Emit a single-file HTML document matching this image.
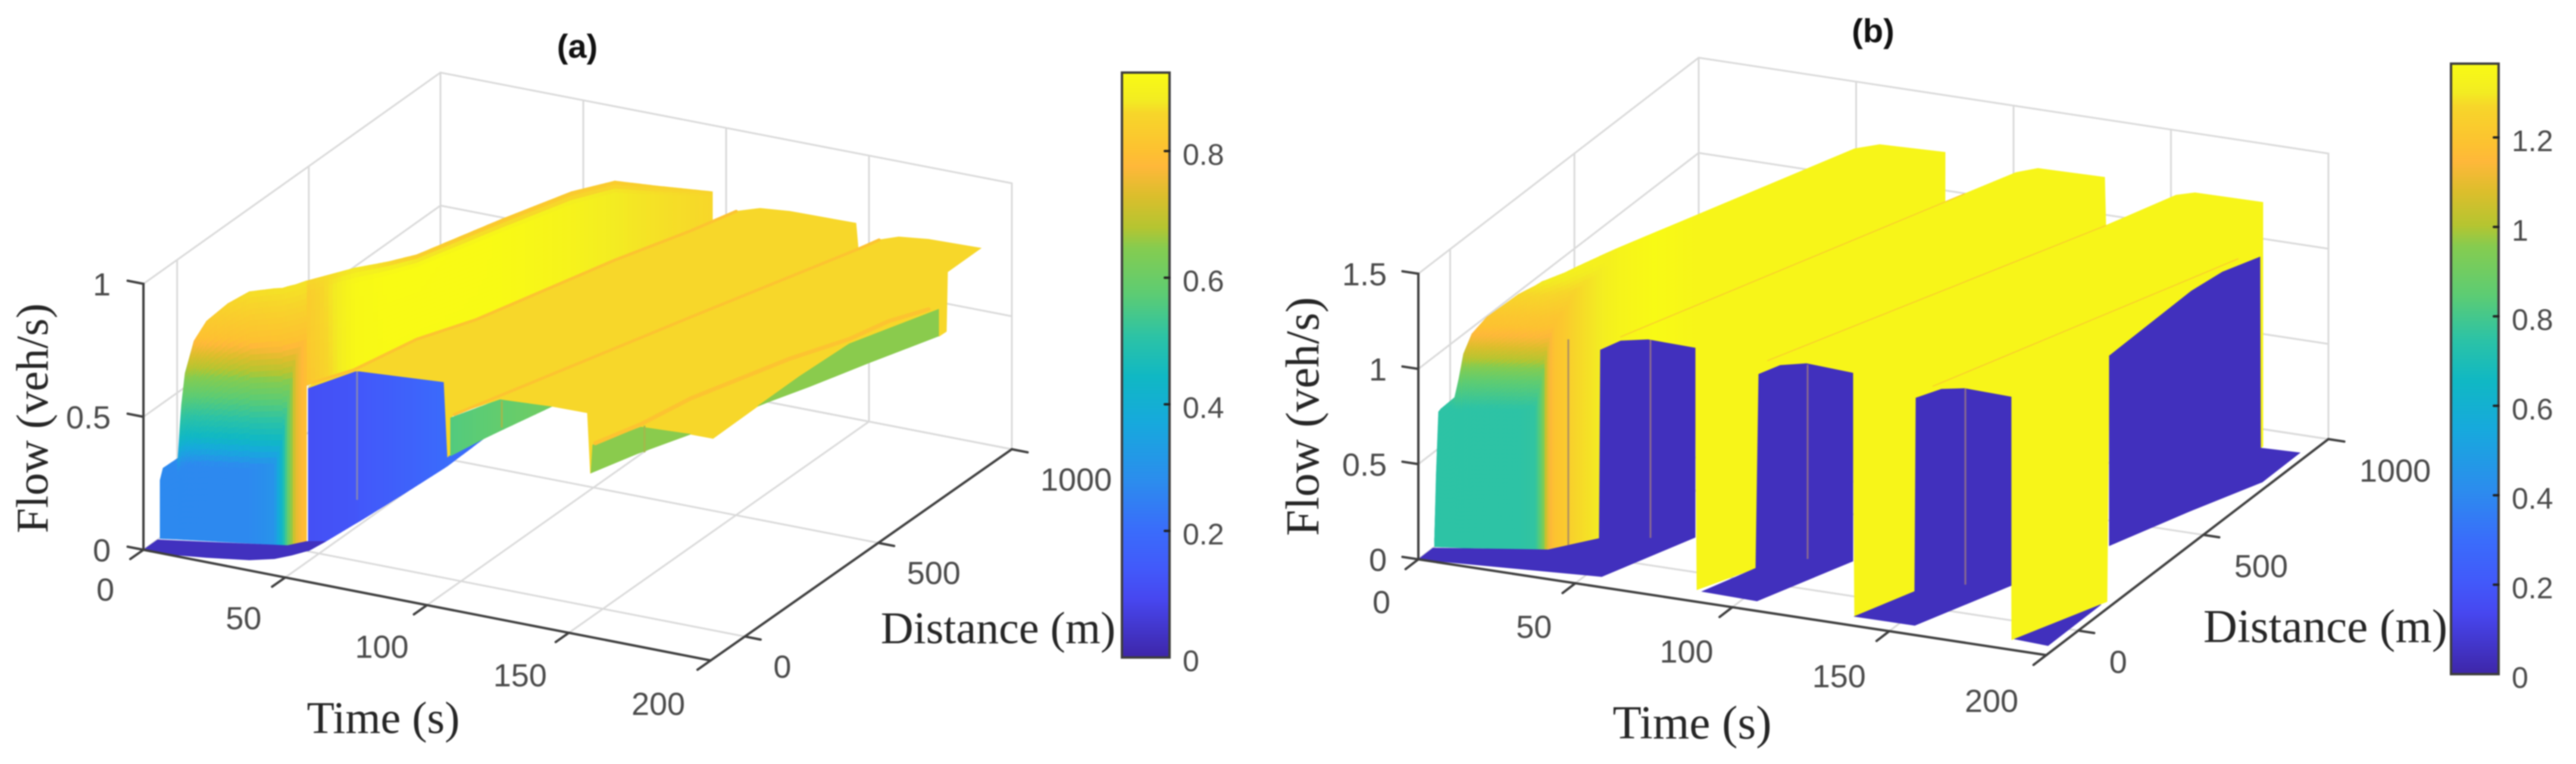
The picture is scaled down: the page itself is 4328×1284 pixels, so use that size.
<!DOCTYPE html>
<html lang="en">
<head>
<meta charset="utf-8">
<title>Flow surfaces (a) and (b)</title>
<style>
html,body{margin:0;padding:0;background:#fff;width:4328px;height:1284px;overflow:hidden}
svg{display:block;filter:blur(1.1px)}
.serif{font-family:"Liberation Serif",serif;fill:#262626}
.sans{font-family:"Liberation Sans",sans-serif}
</style>
</head>
<body>
<svg id="figure" xmlns="http://www.w3.org/2000/svg" width="4328" height="1284" viewBox="0 0 4328 1284">
  <defs id="defs"></defs>
  <rect x="0" y="0" width="4328" height="1284" fill="#fff"/>
  <g id="panel-a"></g>
  <g id="panel-b"></g>
  <text class="sans" x="970" y="97" font-size="56" font-weight="700" text-anchor="middle" fill="#111">(a)</text>
  <text class="sans" x="3147" y="71" font-size="56" font-weight="700" text-anchor="middle" fill="#111">(b)</text>
  <text class="serif" x="644" y="1232" font-size="76" text-anchor="middle">Time (s)</text>
  <text class="serif" x="1677" y="1081" font-size="76" text-anchor="middle">Distance (m)</text>
  <text class="serif" transform="translate(80,703) rotate(-90)" font-size="76" text-anchor="middle">Flow (veh/s)</text>
  <text class="serif" x="2843" y="1241" font-size="79" text-anchor="middle">Time (s)</text>
  <text class="serif" x="3907" y="1079" font-size="79" text-anchor="middle">Distance (m)</text>
  <text class="serif" transform="translate(2215,700) rotate(-90)" font-size="79" text-anchor="middle">Flow (veh/s)</text>
</svg>
<script>
/* ---------- shared axis data ---------- */
const timeTicks = [0, 50, 100, 150, 200];
const distanceTicks = [0, 500, 1000];
const distanceAxisLow = -128;
const aFlowTicks = [0, 0.5, 1];
const bFlowTicks = [0, 0.5, 1, 1.5];
const aColorbarTicks = [0, 0.2, 0.4, 0.6, 0.8];
const bColorbarTicks = [0, 0.2, 0.4, 0.6, 0.8, 1, 1.2];
const aFlowMax = 0.924;
const bFlowMax = 1.365;

/* ---------- colormap ---------- */
const parulaPositions = [0, 0.1, 0.15, 0.217, 0.3, 0.4, 0.48, 0.55, 0.62, 0.7, 0.735, 0.79, 0.84, 0.866, 0.93, 0.953, 1];
const parulaColours = ['3e26a8','4747f0','4259fa','3a6cfb','2c8cee','17a9dd','10b8c4','2dc3a5','5ccc74','85cc50','b5c531','dcbe2c','ffb83a','fdc131','f7d62a','f3ec22','f9fb14'];

/* ---------- panel (a) surface data: time (s), distance along the axis from its corner, flow (veh/s) ---------- */
const aRiseTime = [0.15,1.04,5.38,5.92,6.46,7.51,10.17,13.89,20.28,26.66,34.11,36.55,37.97,39.69,41.71];
const aRiseDist = [53.9,55.4,63.9,64.8,65.6,67.6,72.3,78.7,89.7,100.8,113.6,118.3,120.6,132.1,148.8];
const aRisePeak = [0.219,0.265,0.305,0.411,0.507,0.626,0.749,0.826,0.897,0.946,0.963,0.966,0.973,0.975,0.98];
const aRiseBase = [0.27,0.27,0.27,0.27,0.27,0.27,0.27,0.27,0.27,0.27,0.30,0.45,0.57,0.74,0.80];
const aRiseHeights = [0.286,0.39,0.54,0.615,0.69,0.765,0.84,0.91,0.96];
const aRiseValues = [0.27,0.44,0.57,0.645,0.72,0.80,0.83,0.86,0.87];

const aCrestUpperTime = [30.25,38.56,45.09,50.32,59.76,68.2,75.98,88.85,107.12];
const aCrestUpperDist = [256.7,340.4,385.8,433.2,626.9,778.7,849.8,861,880.6];
const aCrestUpperFlow = [0.87,0.87,0.87,0.87,0.87,0.87,0.87,0.87,0.87];
const aCrestLowerTime = [45.2,50.49,67.8,83.55,94.98,102.37,107.1,112.02,119.29];
const aCrestLowerDist = [115.7,228,171.6,120.3,295.3,457,556.7,642.8,766];
const aCrestLowerFlow = [0.62,0.6,0.741,0.87,0.87,0.87,0.87,0.87,0.87];
const aCrestRowEdge = [0.86,0.87,0.85,0.82,0.80,0.81,0.82,0.84,0.85];
const aCrestRowMiddle = [0.83,0.915,0.924,0.924,0.92,0.90,0.88,0.87,0.86];
const aCrestRowInner = [0.81,0.915,0.92,0.92,0.92,0.90,0.88,0.87,0.86];

const aLowWallTime = [45.95,46.96,48.15,48.37,49.85,50.86,50.9,50.16];
const aLowWallDist = [114.7,162.5,250.1,261.9,398.2,519.1,530.5,658.1];
const aLowWallPeak = [0.611,0.60,0.573,0.564,0.436,0.324,0.034,0];
const aLowWallValue = [0.115,0.12,0.13,0.135,0.165,0.195,0.2,0.2];

const aFloorTime = [0,0,38.1,41.7,46.9,45.9,43,39.6,33.2,20.4,7.6];
const aFloorDist = [0,47,119.5,148.7,162.5,117.4,87.3,61.6,39.1,17,0];
const aFloorFlow = [0,0,0,0,0,0,0,0,0,0,0];
const aFloorValue = 0.03;

const aSheetTwoTime = [44.54,43.75,50,83.55,92.25,107.1,116.49,121.4,126.8,136.18,159.1,160.1,169.98,150.42,95.31,95.66,94.25,94.43,79.64,52.11,50.96];
const aSheetTwoDist = [127.9,151.2,226.7,120.3,236,556.7,719.3,825.1,853.3,863.8,867.5,865.5,774.8,399.7,134.1,121,134.2,120.6,248.1,226.6,223.6];
const aSheetTwoFlow = [0.6,0.6,0.6,0.87,0.87,0.87,0.87,0.87,0.87,0.87,0.87,0.78,0.87,0.87,0.6,0.6,0.45,0.45,0.6,0.6,0.6];

const aStepOneTime = [107.42,109.83,111.22,115.91];
const aStepOneDist = [8.1,96.1,136.4,264.1];
const aStepOneLow = [0.57,0.57,0.57,0.57];
const aStepOnePeak = [0.713,0.695,0.689,0.57];
const aStepOneValue = [0.56,0.575,0.585,0.61];

const aSheetThreeTime = [95.31,101.86,118.95,131.38,131.83,132.36,131.92,151.77,168.21,176.09,175.76,175.56,176.48,187.53,189.89,189.99,190.99,201.3,185.44,176.3,172.05,169.98,150.42];
const aSheetThreeDist = [134.1,224.5,235.5,237.2,242.8,245.6,249.8,223,232.2,233.1,384.4,524.7,682,874.3,854.1,876.8,871.5,885.1,860.4,847.7,822.5,774.8,399.7];
const aSheetThreeFlow = [0.6,0.6,0.6,0.6,0.37,0.38,0.47,0.6,0.6,0.6,0.6,0.6,0.6,0.6,0.52,0.52,0.75,0.85,0.87,0.87,0.87,0.87,0.87];

const aStepTwoTime = [145.49,151.77,168.21,161.15,156];
const aStepTwoDist = [121.9,223,232.2,120.8,17.2];
const aStepTwoFlow = [0.6,0.6,0.6,0.6,0.6];
const aStepThreeTime = [175.76,175.56,176.48,187.53,198.06,189.38,182.33,177.18];
const aStepThreeDist = [384.4,524.7,682,874.3,775.1,625.7,494.5,410.6];
const aStepThreeFlow = [0.6,0.6,0.6,0.6,0.6,0.6,0.6,0.6];
const aSheetValue = 0.86;
const aStepTwoValue = 0.65;

const aCrestOneTime = [43.75,50,83.55,92.25,107.1,116.49,121.4];
const aCrestOneDist = [151.2,226.7,120.3,236,556.7,719.3,825.1];
const aCrestOneFlow = [0.6,0.6,0.87,0.87,0.87,0.87,0.87];
const aCrestTwoTime = [95.31,150.42,169.98,172.05];
const aCrestTwoDist = [134.1,399.7,774.8,822.5];
const aCrestTwoFlow = [0.6,0.87,0.87,0.87];
const aCrestThreeTime = [145.45,150.6,154.17,165.91,174.6,178.42,184.74];
const aCrestThreeDist = [130.4,234,364.4,583.9,699.6,794.1,867];
const aCrestThreeFlow = [0.6,0.6,0.6,0.6,0.6,0.6,0.6];
const aCrestValue = 0.81;

/* ---------- panel (b) surface data ---------- */
const bRiseTime = [0,0.41,1.08,1.76,5.55,6.05,6.73,8.09,10.31,14.36,23.05,27.78,29.58,30.79,32.28,34.71,36.83,40.83,45.42,55.32,65.86];
const bRiseDist = [57.7,58.7,59.7,60.6,66.9,67.7,68.6,70.2,75.1,82.8,98,106.5,109.7,115.2,123.9,134.8,153.3,187,197.1,221.9,248];
const bRisePeak = [0.04,0.372,0.71,0.726,0.788,0.829,0.886,1.019,1.125,1.214,1.338,1.387,1.409,1.416,1.425,1.441,1.456,1.481,1.522,1.603,1.6875];
const bRiseBase = [0.4,0.5,0.75,0.75,0.75,0.75,0.75,0.75,0.75,0.75,0.75,0.76,0.88,1.09,1.19,1.22,1.27,1.30,1.33,1.36,1.34];
const bRiseHeights = [0.7375,0.878,1.0,1.097,1.175,1.214,1.34,1.45];
const bRiseValues = [0.75,0.85,1.01,1.12,1.19,1.2,1.27,1.32];

const bSheetTime = [30.84,32.74,61.3,66.48,86.55,86.72,106.06,112.38,116.79,137.58,138.11,162.75,166.98,188.3,188.4,187.71,187.35,192.5,188.4,178.77,197.55,185.47,166.52,155.22,149.47,143.3,142.98,135.68,116.01,104.92,98.59,93.52,92.73,84.51,65.86,53.58,46.52,41.15];
const bSheetDist = [298.2,338.1,864.3,895.1,903.8,901.9,754.3,867.5,896.4,901.3,899.7,874.5,894.9,898,897,896.2,898.1,707.9,643.8,459.8,242.5,39.4,248,209.2,190.9,169.1,168.4,36.5,249,207.9,185.5,166,164.3,47,248,218,199.6,187.7];
const bSheetFlow = [1.33,1.33,1.33,1.33,1.33,1.07,1.33,1.33,1.33,1.33,1.08,1.33,1.33,1.33,0.05,0.04,1.04,1.19,1.153,0.997,0,0,0.99,1.05,1.053,1.016,0,0,0.9875,1.056,1.056,1.019,0,0,0.994,1.041,1.0375,0.99];
const bSheetValue = 1.34;

const bBlockOneTime = [0,0,31.16,40.83,41.15,46.52,53.58,65.86,65.86,54.68];
const bBlockOneDist = [0,52,113.2,187,187.7,199.6,218,248,248,41.4];
const bBlockOneFlow = [0,0,0,0,0.99,1.0375,1.041,0.994,0,0];
const bBlockTwoTime = [86.55,92.73,93.52,98.59,104.92,116.01,116.01,104.39];
const bBlockTwoDist = [43.2,164.3,166,185.5,207.9,249,249,38.7];
const bBlockTwoFlow = [0,0,1.019,1.056,1.056,0.9875,0,0];
const bBlockThreeTime = [135.68,142.98,143.3,149.47,155.22,166.52,166.52,154.74];
const bBlockThreeDist = [36.5,168.4,169.1,190.9,209.2,248,248,37.4];
const bBlockThreeFlow = [0,0,1.016,1.053,1.05,0.99,0,0];
const bBlockFourTime = [178.77,188.4,192.5,187.35,187.71,197.15,197.31,188.03,178.77];
const bBlockFourDist = [459.8,643.8,707.9,898.1,896.2,930.4,795.7,637.4,459.8];
const bBlockFourFlow = [0.997,1.153,1.19,1.04,0.04,0,0,0,0];
const bBlockFiveTime = [186.05,197,197.17];
const bBlockFiveDist = [43.5,227.5,37.8];
const bBlockFiveFlow = [0,0,0];
const bBlockValue = 0.04;

const bCrestOneTime = [64.39,106.06];
const bCrestOneDist = [0.7,754.3];
const bCrestTwoTime = [111.7,154.62];
const bCrestTwoDist = [-4.6,715.9];
const bCrestThreeTime = [164.51,201.3];
const bCrestThreeDist = [-6,665];
const bCrestFlow = [1.33,1.33];
const bCrestValue = 1.24;

/* ---------- drawing helpers ---------- */
const NS = 'http://www.w3.org/2000/svg';
function svgEl(tag, attrs) {
  const el = document.createElementNS(NS, tag);
  for (const k in attrs) el.setAttribute(k, attrs[k]);
  return el;
}
function lerp(a, b, s) { return a + (b - a) * s; }
function parula(u) {
  u = Math.max(0, Math.min(1, u));
  let i = 0;
  while (i < parulaPositions.length - 2 && u > parulaPositions[i + 1]) i++;
  const s = (u - parulaPositions[i]) / (parulaPositions[i + 1] - parulaPositions[i]);
  const c0 = parulaColours[i], c1 = parulaColours[i + 1];
  const ch = [0, 2, 4].map(function (p) {
    return Math.round(lerp(parseInt(c0.substr(p, 2), 16), parseInt(c1.substr(p, 2), 16), s));
  });
  return 'rgb(' + ch.join(',') + ')';
}
function makePanel(id, origin, timeVec, distVec, flowPx, flowMax, gridSkew) {
  const p = { g: document.getElementById(id), origin, timeVec, distVec, flowPx, flowMax, id };
  p.x = function (t, d) { return origin[0] + t / 200 * timeVec[0] + d / 1000 * distVec[0]; };
  p.y = function (t, d, f) { return origin[1] + t / 200 * timeVec[1] + d / 1000 * distVec[1] - f * flowPx; };
  p.gridX = function (t, d) { return p.x(t, d) - gridSkew * (1 - t / 200) * (d / 1000); };
  p.fill = function (v) { return parula(v / flowMax); };
  return p;
}
/* distance tick value -> position along the axis, measured from the axis corner */
function distanceScale(d) { return (d - distanceAxisLow) / (1000 - distanceAxisLow) * 1000; }
function quad(p, pts, value, layer) {
  const col = p.fill(value);
  const el = svgEl('polygon', {
    points: pts.map(function (q) { return p.x(q[0], q[1]).toFixed(1) + ',' + p.y(q[0], q[1], q[2]).toFixed(1); }).join(' '),
    fill: col, stroke: col, 'stroke-width': 0.9
  });
  
  
  layer.appendChild(el);
}
function layerOf(p, name) {
  const g = svgEl('g', {});
  
  
  p.g.appendChild(g);
  return g;
}
function face(p, name, times, dists, flows, value) {
  const el = svgEl('polygon', {
    points: times.map(function (t, i) { return p.x(t, dists[i]).toFixed(1) + ',' + p.y(t, dists[i], flows[i]).toFixed(1); }).join(' '),
    fill: p.fill(value), stroke: p.fill(value), 'stroke-width': 1
  });
  
  
  p.g.appendChild(el);
}
function knotValue(h, hs, vs) {
  if (h <= hs[0]) return vs[0];
  for (let i = 0; i < hs.length - 1; i++) {
    if (h <= hs[i + 1]) return lerp(vs[i], vs[i + 1], (h - hs[i]) / (hs[i + 1] - hs[i]));
  }
  return vs[vs.length - 1];
}
/* vertical columns standing on (time, dist); optionally shaded by height */
function columns(p, name, times, dists, lows, peaks, values, heights, heightValues) {
  const layer = layerOf(p, name);
  const stepX = heights ? 5 : 7;
  for (let j = 0; j < times.length - 1; j++) {
    const dx = Math.abs(p.x(times[j + 1], dists[j + 1]) - p.x(times[j], dists[j]));
    const n = Math.max(1, Math.ceil(dx / stepX));
    for (let k = 0; k < n; k++) {
      const s0 = k / n, s1 = (k + 1) / n, sm = (s0 + s1) / 2;
      const t0 = lerp(times[j], times[j + 1], s0), t1 = lerp(times[j], times[j + 1], s1);
      const d0 = lerp(dists[j], dists[j + 1], s0), d1 = lerp(dists[j], dists[j + 1], s1);
      const l0 = lows ? lerp(lows[j], lows[j + 1], s0) : 0, l1 = lows ? lerp(lows[j], lows[j + 1], s1) : 0;
      const h0 = lerp(peaks[j], peaks[j + 1], s0), h1 = lerp(peaks[j], peaks[j + 1], s1);
      const base = lerp(values[j], values[j + 1], sm);
      if (!heights) {
        quad(p, [[t0, d0, l0], [t1, d1, l1], [t1, d1, h1], [t0, d0, h0]], base, layer);
        continue;
      }
      const rows = Math.max(1, Math.ceil(Math.max(h0, h1) / 0.022));
      for (let r = 0; r < rows; r++) {
        const a = r / rows, b = (r + 1) / rows;
        const mid = (h0 + h1) / 2 * (a + b) / 2;
        const v = Math.max(base, knotValue(mid, heights, heightValues));
        quad(p, [[t0, d0, h0 * a], [t1, d1, h1 * a], [t1, d1, h1 * b], [t0, d0, h0 * b]], v, layer);
      }
    }
  }
}
/* sheet between an upper and a lower curve, shaded across three rows */
function crestSheet(p, name, upT, upD, upF, loT, loD, loF, rowA, rowB, rowC) {
  const layer = layerOf(p, name);
  const split = 0.14;
  function shade(j, s, r) {
    const a = lerp(rowA[j], rowA[j + 1], s), b = lerp(rowB[j], rowB[j + 1], s), c = lerp(rowC[j], rowC[j + 1], s);
    return r < split ? lerp(a, b, r / split) : lerp(b, c, (r - split) / (1 - split));
  }
  for (let j = 0; j < upT.length - 1; j++) {
    const dx = p.x(upT[j + 1], upD[j + 1]) - p.x(upT[j], upD[j]);
    const n = Math.max(1, Math.ceil(dx / 8));
    for (let k = 0; k < n; k++) {
      const s0 = k / n, s1 = (k + 1) / n;
      const rows = 20;
      for (let r = 0; r < rows; r++) {
        const r0 = r / rows, r1 = (r + 1) / rows;
        const pt = function (s, rr) {
          return [
            lerp(lerp(upT[j], upT[j + 1], s), lerp(loT[j], loT[j + 1], s), rr),
            lerp(lerp(upD[j], upD[j + 1], s), lerp(loD[j], loD[j + 1], s), rr),
            lerp(lerp(upF[j], upF[j + 1], s), lerp(loF[j], loF[j + 1], s), rr)
          ];
        };
        quad(p, [pt(s0, r0), pt(s1, r0), pt(s1, r1), pt(s0, r1)], shade(j, (s0 + s1) / 2, (r0 + r1) / 2), layer);
      }
    }
  }
}
function polyline(p, name, times, dists, flows, value, width) {
  const el = svgEl('polyline', {
    points: times.map(function (t, i) { return p.x(t, dists[i]).toFixed(1) + ',' + p.y(t, dists[i], flows[i]).toFixed(1); }).join(' '),
    fill: 'none', stroke: p.fill(value), 'stroke-width': width, 'stroke-linecap': 'round', 'stroke-linejoin': 'round'
  });
  
  
  p.g.appendChild(el);
}
function seam(p, name, t, d, f0, f1, colour) {
  const el = svgEl('line', { x1: p.x(t, d), y1: p.y(t, d, f0), x2: p.x(t, d), y2: p.y(t, d, f1), stroke: colour, 'stroke-width': 3 });
  
  
  p.g.appendChild(el);
}
function segment(g, name, x1, y1, x2, y2, colour, width) {
  const el = svgEl('line', { x1, y1, x2, y2, stroke: colour, 'stroke-width': width, 'stroke-linecap': 'round' });
  
  
  g.appendChild(el);
}
function label(g, name, x, yc, str, size, anchor) {
  const el = svgEl('text', { x, y: yc + size * 0.358, 'font-size': size, 'text-anchor': anchor, fill: '#4a4a4a', class: 'sans' });
  
  
  el.textContent = str;
  g.appendChild(el);
}
function drawGrid(p, flowTicks) {
  const g = layerOf(p, 'grid');
  const top = flowTicks[flowTicks.length - 1];
  const col = '#dadada';
  timeTicks.forEach(function (t) {
    segment(g, 'floor-grid-time-' + t, p.gridX(t, 0), p.y(t, 0, 0), p.gridX(t, 1000), p.y(t, 1000, 0), col, 3);
    segment(g, 'wall-grid-time-' + t, p.gridX(t, 1000), p.y(t, 1000, 0), p.gridX(t, 1000), p.y(t, 1000, top), col, 3);
  });
  distanceTicks.forEach(function (d) {
    const pos = distanceScale(d);
    segment(g, 'floor-grid-distance-' + d, p.gridX(0, pos), p.y(0, pos, 0), p.gridX(200, pos), p.y(200, pos, 0), col, 3);
    segment(g, 'wall-grid-distance-' + d, p.gridX(0, pos), p.y(0, pos, 0), p.gridX(0, pos), p.y(0, pos, top), col, 3);
  });
  flowTicks.forEach(function (f) {
    segment(g, 'wall-grid-flow-left-' + f, p.gridX(0, 0), p.y(0, 0, f), p.gridX(0, 1000), p.y(0, 1000, f), col, 3);
    segment(g, 'wall-grid-flow-back-' + f, p.gridX(0, 1000), p.y(0, 1000, f), p.gridX(200, 1000), p.y(200, 1000, f), col, 3);
  });
}
function drawAxes(p, flowTicks, off) {
  const g = layerOf(p, 'axes');
  const dark = '#3f3f3f';
  const top = flowTicks[flowTicks.length - 1];
  segment(g, 'flow-axis', p.x(0, 0), p.y(0, 0, 0), p.x(0, 0), p.y(0, 0, top), dark, 4);
  segment(g, 'time-axis', p.x(0, 0), p.y(0, 0, 0), p.x(200, 0), p.y(200, 0, 0), dark, 4);
  segment(g, 'distance-axis', p.x(200, 0), p.y(200, 0, 0), p.x(200, 1000), p.y(200, 1000, 0), dark, 4);
  const tLen = Math.hypot(p.timeVec[0], p.timeVec[1]), dLen = Math.hypot(p.distVec[0], p.distVec[1]);
  const tx = p.timeVec[0] / tLen * 27, ty = p.timeVec[1] / tLen * 27;
  const dx = p.distVec[0] / dLen * 27, dy = p.distVec[1] / dLen * 27;
  timeTicks.forEach(function (t) {
    const x = p.x(t, 0), y = p.y(t, 0, 0);
    segment(g, 'time-tick-' + t, x, y, x - dx, y - dy, dark, 4);
    label(g, 'time-tick-label-' + t, x + off.tx0 + off.tx1 * t, y + off.ty0 + off.ty1 * t, String(t), 54, 'middle');
  });
  distanceTicks.forEach(function (d) {
    const pos = distanceScale(d);
    const x = p.x(200, pos), y = p.y(200, pos, 0);
    segment(g, 'distance-tick-' + d, x, y, x + tx, y + ty, dark, 4);
    label(g, 'distance-tick-label-' + d, x + off.dGap, y + off.dDrop, String(d), 54, 'start');
  });
  flowTicks.forEach(function (f) {
    const x = p.x(0, 0), y = p.y(0, 0, f);
    segment(g, 'flow-tick-' + f, x, y, x - tx, y - ty, dark, 4);
    label(g, 'flow-tick-label-' + f, x - off.flowGap, y, String(f), 54, 'end');
  });
}
function drawColorbar(p, x, yTop, yBottom, width, ticks, flowMax) {
  const gid = p.id + '-gradient';
  const grad = svgEl('linearGradient', { id: gid, x1: 0, y1: 1, x2: 0, y2: 0 });
  parulaPositions.forEach(function (u, i) {
    grad.appendChild(svgEl('stop', { offset: u, 'stop-color': '#' + parulaColours[i] }));
  });
  document.getElementById('defs').appendChild(grad);
  const g = layerOf(p, 'colorbar');
  const r = svgEl('rect', { x, y: yTop, width, height: yBottom - yTop, fill: 'url(#' + gid + ')', stroke: '#3d3d3d', 'stroke-width': 4 });
  
  
  g.appendChild(r);
  ticks.forEach(function (v) {
    const y = yBottom - (yBottom - yTop) * v / flowMax;
    if (v > 0) segment(g, 'colorbar-tick-' + v, x + width - 8, y, x + width, y, '#222', 4);
    label(g, 'colorbar-label-' + v, x + width + 22, y + 5, String(v), 50, 'start');
  });
}

/* ---------- panel (a) ---------- */
const pa = makePanel('panel-a', [241, 924], [953, 186], [506, -355], 447, aFlowMax, 7);
drawGrid(pa, aFlowTicks);
crestSheet(pa, 'ridge-one-sheet', aCrestUpperTime, aCrestUpperDist, aCrestUpperFlow, aCrestLowerTime, aCrestLowerDist, aCrestLowerFlow, aCrestRowEdge, aCrestRowMiddle, aCrestRowInner);
columns(pa, 'rising-flow-wall', aRiseTime, aRiseDist, null, aRisePeak, aRiseBase, aRiseHeights, aRiseValues);
columns(pa, 'low-flow-wall', aLowWallTime, aLowWallDist, null, aLowWallPeak, aLowWallValue);
face(pa, 'near-floor', aFloorTime, aFloorDist, aFloorFlow, aFloorValue);
face(pa, 'ridge-two-sheet', aSheetTwoTime, aSheetTwoDist, aSheetTwoFlow, aSheetValue);
columns(pa, 'step-one-wall', aStepOneTime, aStepOneDist, aStepOneLow, aStepOnePeak, aStepOneValue);
face(pa, 'ridge-three-sheet', aSheetThreeTime, aSheetThreeDist, aSheetThreeFlow, aSheetValue);
face(pa, 'step-two-wall', aStepTwoTime, aStepTwoDist, aStepTwoFlow, aStepTwoValue);
face(pa, 'step-three-wall', aStepThreeTime, aStepThreeDist, aStepThreeFlow, aStepTwoValue);
polyline(pa, 'crest-line-one', aCrestOneTime, aCrestOneDist, aCrestOneFlow, aCrestValue, 5);
polyline(pa, 'crest-line-two', aCrestTwoTime, aCrestTwoDist, aCrestTwoFlow, aCrestValue, 5);
polyline(pa, 'crest-line-three', aCrestThreeTime, aCrestThreeDist, aCrestThreeFlow, aCrestValue, 7);
seam(pa, 'surface-seam-blue', 48.17, 255.8, 0.085, 0.568, '#8585b5');
seam(pa, 'surface-seam-green-one', 111.5, 140, 0.58, 0.68, '#a5b84a');
seam(pa, 'surface-seam-green-two', 159.5, 161.7, 0.57, 0.67, '#a5b84a');
drawAxes(pa, aFlowTicks, { tx0: -64, tx1: -0.12, ty0: 66, ty1: 0.03, dGap: 48, dDrop: 50, flowGap: 55 });
drawColorbar(pa, 1885, 122, 1105, 80, aColorbarTicks, aFlowMax);

/* ---------- panel (b) ---------- */
const pb = makePanel('panel-b', [2383, 940], [1055, 161], [474, -363], 320, bFlowMax, 3);
drawGrid(pb, bFlowTicks);
face(pb, 'yellow-ridge-sheet', bSheetTime, bSheetDist, bSheetFlow, bSheetValue);
columns(pb, 'rising-flow-wall', bRiseTime, bRiseDist, null, bRisePeak, bRiseBase, bRiseHeights, bRiseValues);
face(pb, 'low-flow-block-one', bBlockOneTime, bBlockOneDist, bBlockOneFlow, bBlockValue);
face(pb, 'low-flow-block-two', bBlockTwoTime, bBlockTwoDist, bBlockTwoFlow, bBlockValue);
face(pb, 'low-flow-block-three', bBlockThreeTime, bBlockThreeDist, bBlockThreeFlow, bBlockValue);
face(pb, 'low-flow-block-four', bBlockFourTime, bBlockFourDist, bBlockFourFlow, bBlockValue);
face(pb, 'low-flow-block-five', bBlockFiveTime, bBlockFiveDist, bBlockFiveFlow, bBlockValue);
polyline(pb, 'crest-line-one', bCrestOneTime, bCrestOneDist, bCrestFlow, bCrestValue, 2);
polyline(pb, 'crest-line-two', bCrestTwoTime, bCrestTwoDist, bCrestFlow, bCrestValue, 2);
polyline(pb, 'crest-line-three', bCrestThreeTime, bCrestThreeDist, bCrestFlow, bCrestValue, 2);
seam(pb, 'surface-seam-orange', 35.5, 136.5, 0.01, 1.09, '#b09060');
seam(pb, 'surface-seam-block-one', 54.22, 219.4, 0, 1.04, '#8a6a90');
seam(pb, 'surface-seam-block-two', 105.24, 208.6, 0.03, 1.05, '#8a6a90');
seam(pb, 'surface-seam-block-three', 155.4, 209.5, 0.02, 1.05, '#8a6a90');
drawAxes(pb, bFlowTicks, { tx0: -62, tx1: -0.15, ty0: 71, ty1: 0.025, dGap: 52, dDrop: 52, flowGap: 53 });
drawColorbar(pb, 4118, 107, 1133, 80, bColorbarTicks, bFlowMax);
</script>
</body>
</html>
